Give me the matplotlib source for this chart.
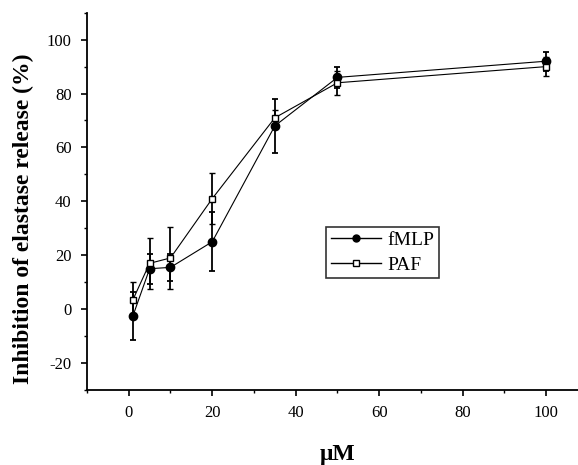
import matplotlib
matplotlib.use("Agg")
import matplotlib.pyplot as plt
from matplotlib.ticker import MultipleLocator
from matplotlib.lines import Line2D

# Datos
conc = [1, 5, 10, 20, 35, 50, 100]
fmlp = [-2.5, 15, 15.5, 25, 68, 86, 92]
fmlp_err = [9, 5.5, 5, 11, 10, 4, 3.5]
paf = [3.5, 17, 19, 41, 71, 84, 90]
paf_err = [6.5, 9.5, 11.5, 9.5, 3, 4.5, 3.5]

plt.rcParams["font.family"] = ["Liberation Serif", "DejaVu Serif"]
plt.rcParams["axes.unicode_minus"] = False

fig = plt.figure(figsize=(5.78, 4.65), dpi=100)
ax = fig.add_axes([87 / 578, 75 / 465, 500.9 / 578, 377.3 / 465])

ax.errorbar(conc, fmlp, yerr=fmlp_err, color="black", lw=0.8, elinewidth=1.3,
            capsize=2.5, capthick=1.3, marker="o", ms=6, mfc="black", mec="black")
ax.errorbar(conc, paf, yerr=paf_err, color="black", lw=0.8, elinewidth=1.3,
            capsize=2.5, capthick=1.3, marker="s", ms=5, mfc="white", mec="black", mew=1)

ax.set_xlim(-10, 110)
ax.set_ylim(-30, 110)
ax.xaxis.set_major_locator(MultipleLocator(20))
ax.xaxis.set_minor_locator(MultipleLocator(10))
ax.yaxis.set_major_locator(MultipleLocator(20))
ax.yaxis.set_minor_locator(MultipleLocator(10))
ax.set_yticks([-20, 0, 20, 40, 60, 80, 100])

ax.spines["top"].set_visible(False)
ax.spines["right"].set_visible(False)
ax.spines["left"].set_linewidth(1.3)
ax.spines["bottom"].set_linewidth(1.3)
ax.tick_params(which="major", direction="out", length=4, width=1.2, labelsize=12, pad=7)
ax.tick_params(which="minor", direction="out", length=2.5, width=1.0)

ax.set_ylabel("Inhibition of elastase release (%)", fontsize=17, fontweight="bold")
ax.yaxis.set_label_coords(-0.105, 0.455)
ax.set_xlabel("\u03bcM", fontsize=17, fontweight="bold")
ax.xaxis.set_label_coords(0.5, -0.143)

handles = [
    Line2D([], [], color="black", lw=1, marker="o", ms=5, mfc="black"),
    Line2D([], [], color="black", lw=1, marker="s", ms=4, mfc="white"),
]
leg = ax.legend(handles, ["fMLP", "PAF"], loc="upper left",
                bbox_to_anchor=(239 / 500.9, 1 - 214 / 377.3), fontsize=14,
                frameon=True, fancybox=False, edgecolor="black",
                handlelength=2.6, handletextpad=0.3, borderpad=0.25,
                labelspacing=0.35, borderaxespad=0)
leg.get_frame().set_linewidth(1.2)

plt.savefig("out.png", dpi=100)
